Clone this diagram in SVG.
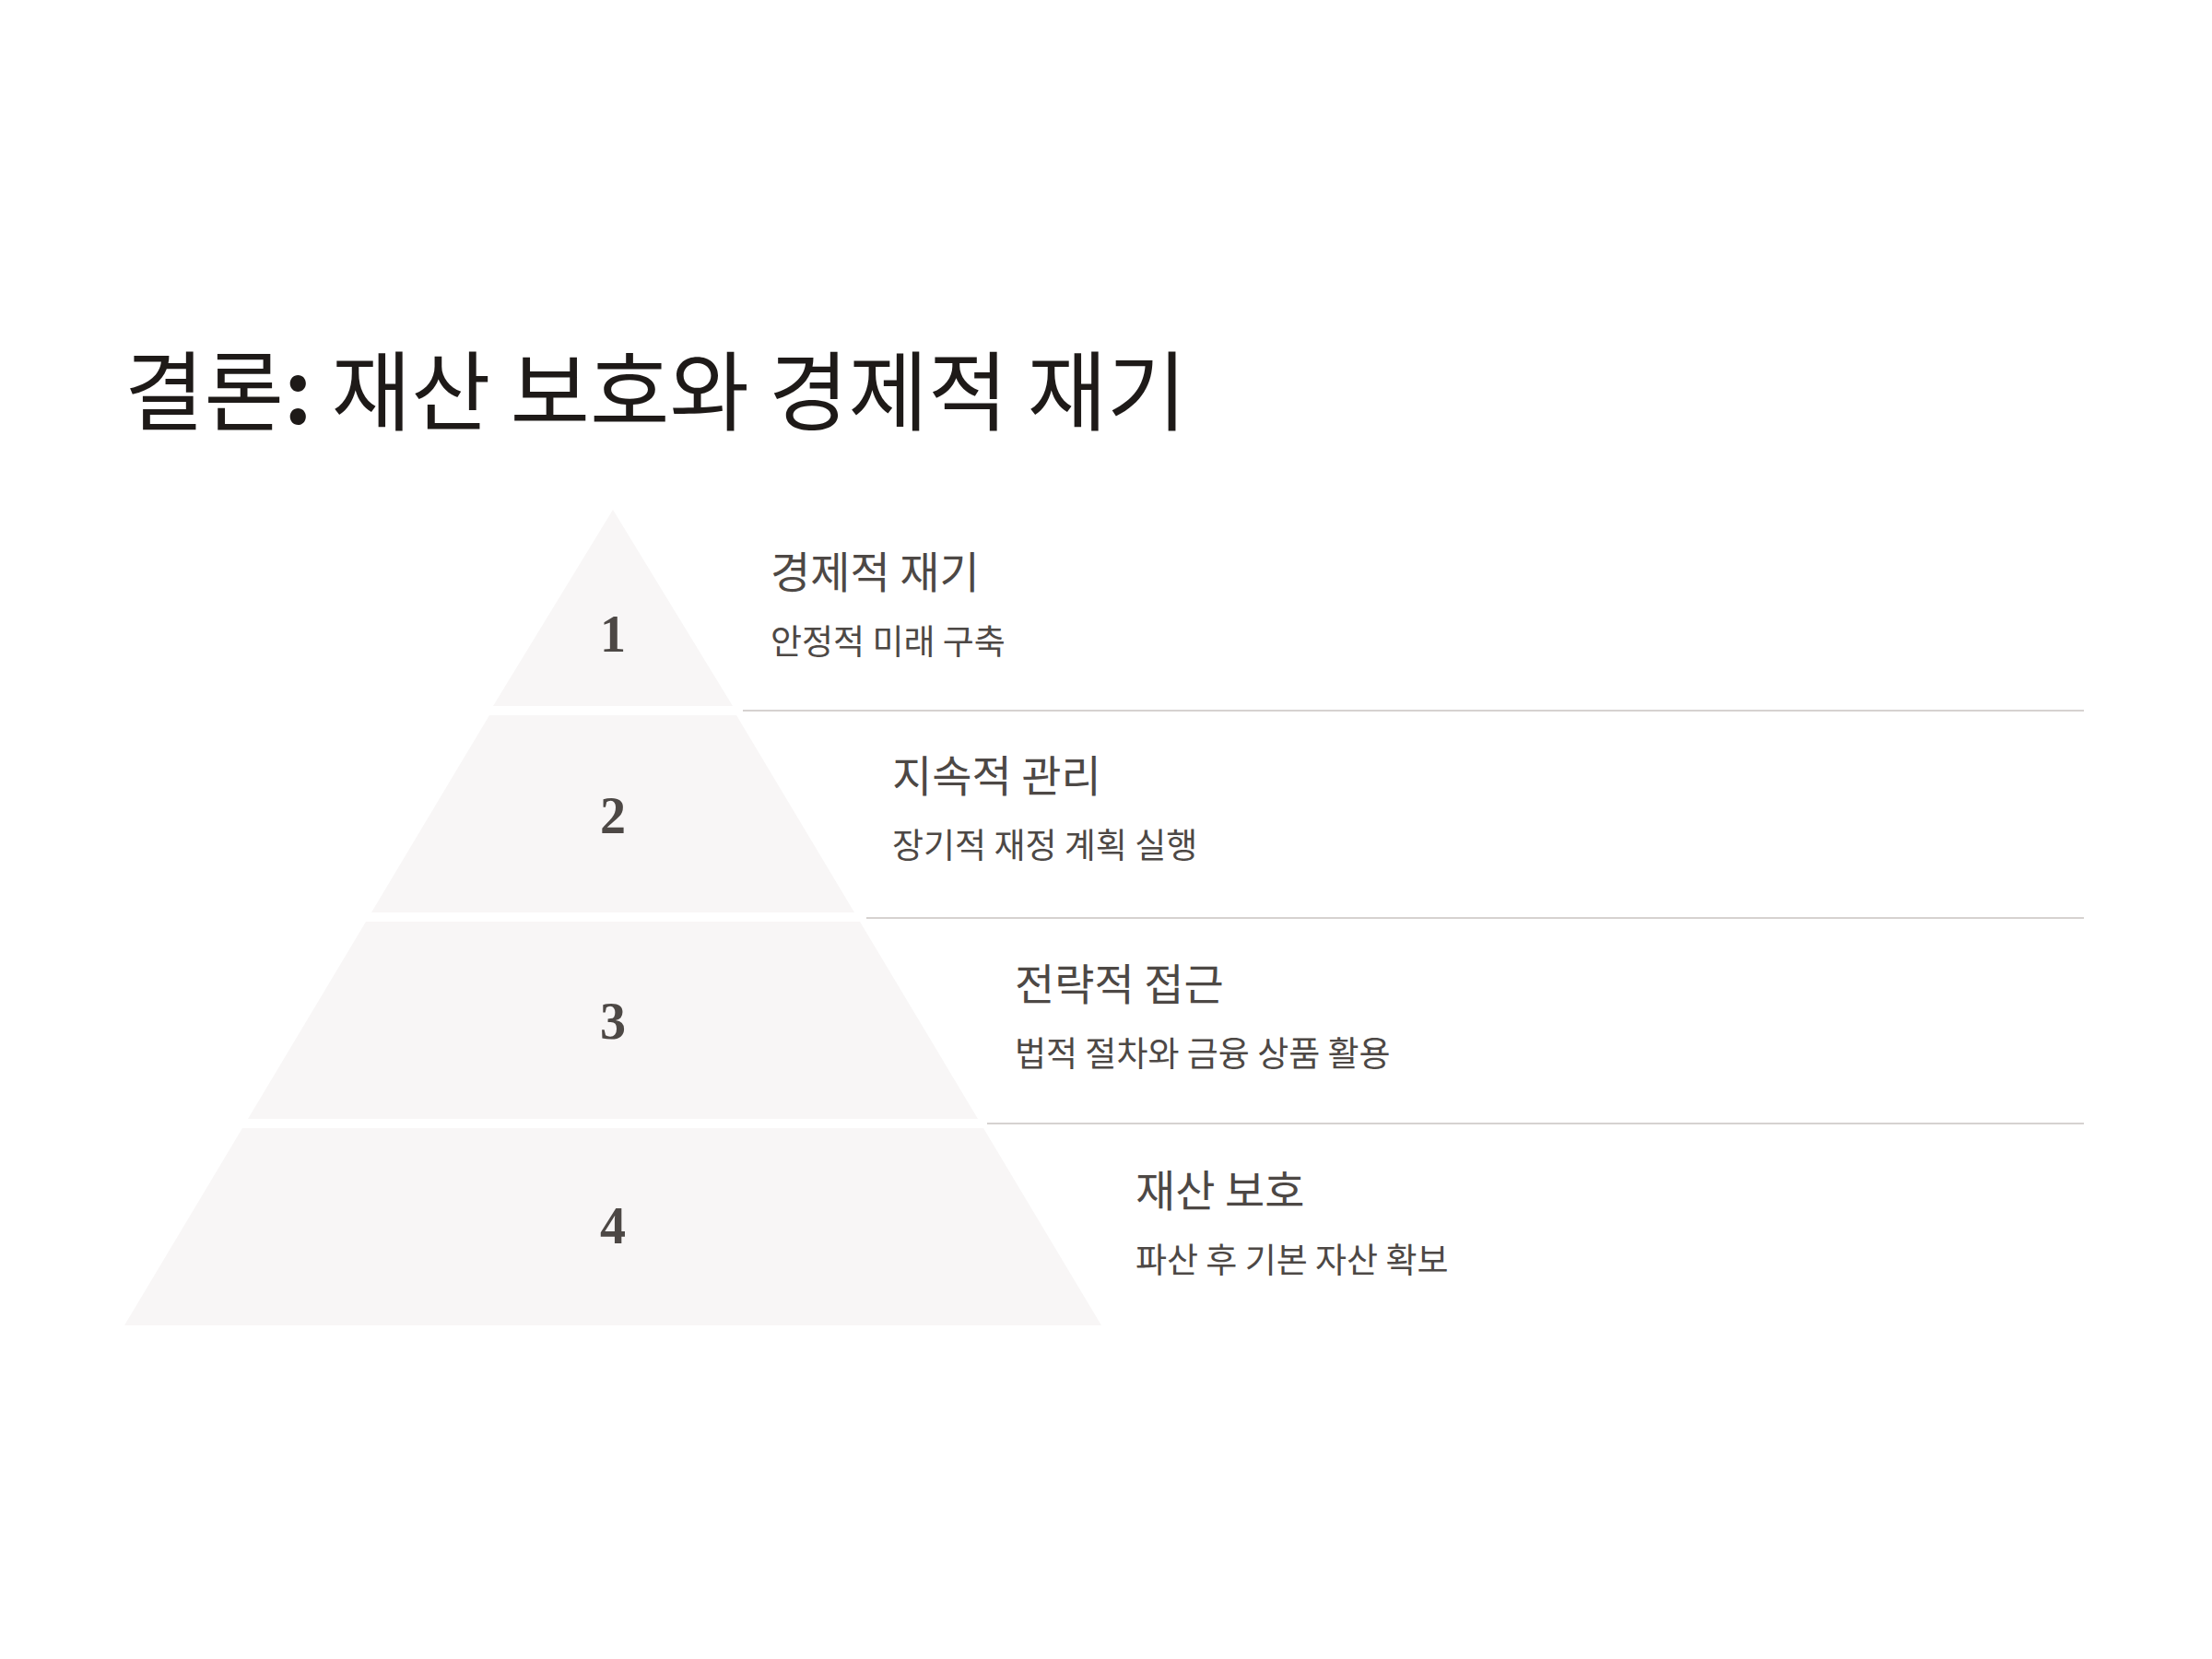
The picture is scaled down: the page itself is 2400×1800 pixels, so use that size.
<svg xmlns="http://www.w3.org/2000/svg" width="2400" height="1800" viewBox="0 0 2400 1800">
<style>
.tier{fill:#f8f6f6}
.num{font-family:"Liberation Serif","DejaVu Serif",serif;font-weight:bold;font-size:56px;fill:#4d4845;text-anchor:middle}
.lt{font-family:"Noto Sans CJK KR","Noto Sans",sans-serif;font-size:47px;fill:#4d4845}
.ls{font-family:"Noto Sans CJK KR","Noto Sans",sans-serif;font-size:37px;fill:#4d4845}
.title{font-family:"Noto Sans CJK KR","Noto Sans",sans-serif;font-size:94px;fill:#1e1a18}
.sep{stroke:#d6d2d0;stroke-width:2;fill:none}
</style>
<rect width="2400" height="1800" fill="#ffffff"/>
<text class="title" x="135" y="460">결론<tspan font-weight="bold">:</tspan> 재산 보호와 경제적 재기</text>
<g id="tier1">
<polygon class="tier" points="665,553 795,766 535,766"/>
<text class="num" x="665" y="707">1</text>
<text class="lt" x="836" y="638">경제적 재기</text>
<text class="ls" x="836" y="710">안정적 미래 구축</text>
</g>
<g id="tier2">
<polygon class="tier" points="531,776 799,776 927,990 403,990"/>
<text class="num" x="665" y="904">2</text>
<text class="lt" x="968" y="859">지속적 관리</text>
<text class="ls" x="968" y="931">장기적 재정 계획 실행</text>
</g>
<g id="tier3">
<polygon class="tier" points="397,1000 933,1000 1061,1214 269,1214"/>
<text class="num" x="665" y="1127">3</text>
<text class="lt" x="1101" y="1085">전략적 접근</text>
<text class="ls" x="1101" y="1157">법적 절차와 금융 상품 활용</text>
</g>
<g id="tier4">
<polygon class="tier" points="263,1224 1067,1224 1195,1438 135,1438"/>
<text class="num" x="665" y="1349">4</text>
<text class="lt" x="1232" y="1309">재산 보호</text>
<text class="ls" x="1232" y="1381">파산 후 기본 자산 확보</text>
</g>
<g id="connectors">
<line class="sep" x1="806" y1="771" x2="2261" y2="771"/>
<line class="sep" x1="940" y1="996" x2="2261" y2="996"/>
<line class="sep" x1="1071" y1="1219" x2="2261" y2="1219"/>
</g>
</svg>
